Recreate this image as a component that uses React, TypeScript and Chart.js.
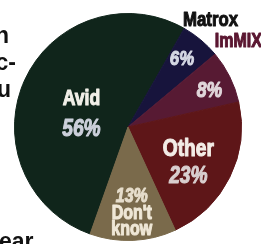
import { useEffect, useRef } from 'react';
import { Chart, registerables } from 'chart.js';

Chart.register(...registerables);

const categories = ['Avid', 'Matrox', 'ImMIX', 'Other', "Don't know"];
const shares = [56, 6, 8, 23, 13];
const percentLabels = ['56%', '6%', '8%', '23%', '13%'];
const sliceColors = ['#10251b', '#17143c', '#571a33', '#5e1618', '#7a6a4b'];

const FONT = "'Liberation Sans', Arial, sans-serif";
const NARROW_SCALE = 0.8;

type Line = [string, number, boolean, string];
type Spec = {
  inside: Line[];
  spacing: number;
  frac: number;
  shift: number;
  outside?: { size: number; color: string; frac: number; shift: number };
};

const labelSpecs: Spec[] = [
  { inside: [['name', 22, false, '#f1efe8'], ['pct', 24, true, '#ccd0db']], spacing: 30, frac: 0.43, shift: -7 },
  {
    inside: [['pct', 21, true, '#d5d8e4']],
    spacing: 0,
    frac: 0.775,
    shift: -2,
    outside: { size: 21, color: '#111111', frac: 1.2, shift: -2.6 },
  },
  {
    inside: [['pct', 22, true, '#e0d6da']],
    spacing: 0,
    frac: 0.79,
    shift: 1.5,
    outside: { size: 20, color: '#5a1630', frac: 1.24, shift: -12 },
  },
  { inside: [['name', 24, false, '#f3ece6'], ['pct', 24, true, '#d9cfcf']], spacing: 26.5, frac: 0.61, shift: 3 },
  {
    inside: [
      ['pct', 20, true, '#e6ddcb'],
      ['name0', 20, false, '#efe7d6'],
      ['name1', 20, false, '#efe7d6'],
    ],
    spacing: 16.5,
    frac: 0.745,
    shift: 0,
  },
];

const lineText = (kind: string, i: number) => {
  if (kind === 'pct') return percentLabels[i];
  if (kind === 'name') return categories[i];
  const words = categories[i].split(' ');
  return words[Number(kind.slice(4))] ?? '';
};

const drawNarrow = (ctx: CanvasRenderingContext2D, text: string, x: number, y: number, color: string) => {
  ctx.save();
  ctx.translate(x, y);
  ctx.scale(NARROW_SCALE, 1);
  ctx.fillStyle = color;
  ctx.strokeStyle = color;
  ctx.lineWidth = 1.1;
  ctx.lineJoin = 'round';
  ctx.strokeText(text, 0, 0);
  ctx.fillText(text, 0, 0);
  ctx.restore();
};

const labelPlugin = {
  id: 'sliceLabels',
  afterDatasetsDraw(chart: any) {
    const ctx = chart.ctx as CanvasRenderingContext2D;
    const meta = chart.getDatasetMeta(0);
    meta.data.forEach((arc: any, i: number) => {
      const p = arc.getProps(['x', 'y', 'startAngle', 'endAngle', 'outerRadius'], true);
      const spec = labelSpecs[i];
      const place = (frac: number, shiftDeg: number) => {
        const a = (p.startAngle + p.endAngle) / 2 + (shiftDeg * Math.PI) / 180;
        const r = p.outerRadius * frac;
        return [p.x + Math.cos(a) * r, p.y + Math.sin(a) * r];
      };
      ctx.save();
      ctx.textAlign = 'center';
      ctx.textBaseline = 'alphabetic';
      const [cx, cy] = place(spec.frac, spec.shift);
      const n = spec.inside.length;
      spec.inside.forEach(([kind, size, italic, color], k) => {
        const lc = cy + (k - (n - 1) / 2) * spec.spacing;
        ctx.font = `${italic ? 'italic ' : ''}bold ${size}px ${FONT}`;
        drawNarrow(ctx, lineText(kind, i), cx, lc + 0.36 * size, color);
      });
      if (spec.outside) {
        const o = spec.outside;
        const [ox, oy] = place(o.frac, o.shift);
        ctx.font = `bold ${o.size}px ${FONT}`;
        drawNarrow(ctx, categories[i], ox, oy + 0.36 * o.size, o.color);
      }
      ctx.restore();
    });
  },
};

const sideStyle = {
  position: 'absolute' as const,
  fontFamily: "'Liberation Sans', Arial, sans-serif",
  fontWeight: 'bold' as const,
  fontSize: 23,
  lineHeight: '23px',
  color: '#111',
  whiteSpace: 'nowrap' as const,
};

export default function App() {
  const ref = useRef<HTMLCanvasElement>(null);
  useEffect(() => {
    const chart = new Chart(ref.current!, {
      type: 'pie',
      data: {
        labels: categories,
        datasets: [
          {
            data: shares,
            backgroundColor: sliceColors,
            borderColor: sliceColors,
            borderWidth: 1,
          },
        ],
      },
      options: {
        responsive: false,
        animation: false,
        rotation: 199.5,
        events: [],
        layout: { padding: { left: 14, right: 19, top: 13, bottom: 3 } },
        plugins: { legend: { display: false }, tooltip: { enabled: false } },
      },
      plugins: [labelPlugin],
    });
    return () => chart.destroy();
  }, []);
  return (
    <div
      style={{
        position: 'fixed',
        left: 0,
        top: 0,
        width: 261,
        height: 244,
        overflow: 'hidden',
        background: '#ffffff',
      }}
    >
      <canvas ref={ref} width={261} height={244} style={{ position: 'absolute', left: 0, top: 0 }} />
      <div style={{ ...sideStyle, top: 23.5, right: 261 - 9 }}>n</div>
      <div style={{ ...sideStyle, top: 50.5, right: 261 - 16 }}>c-</div>
      <div style={{ ...sideStyle, top: 77.5, right: 261 - 11 }}>u</div>
      <div style={{ ...sideStyle, top: 229.5, left: -1 }}>ear</div>
    </div>
  );
}
